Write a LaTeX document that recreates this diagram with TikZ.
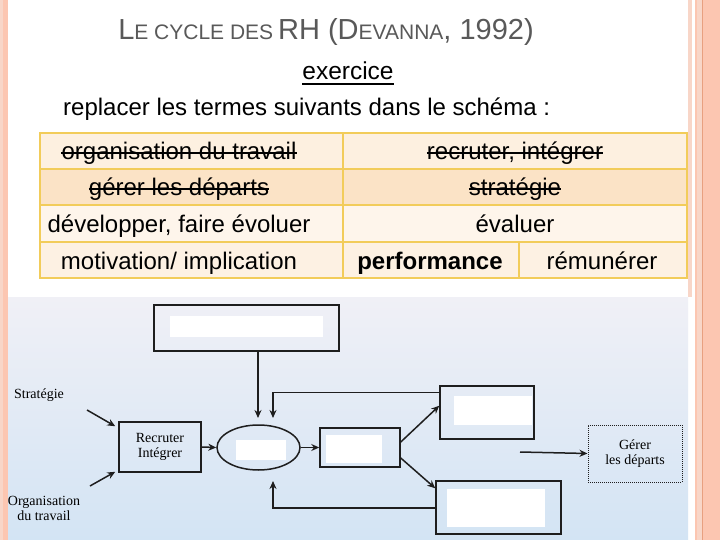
\documentclass[tikz,border=0pt]{standalone}
\usepackage{fontspec}
\setmainfont{Liberation Sans}
\newfontfamily\serifdiag{Liberation Serif}
\usetikzlibrary{arrows.meta,calc,shapes.geometric}
\definecolor{salmon}{HTML}{FCC6B1}
\definecolor{salmonlight}{HTML}{F8D6C8}
\definecolor{salmondark}{HTML}{E8A080}
\definecolor{bgtop}{HTML}{F0F0F6}
\definecolor{bgbot}{HTML}{D3E4F4}
\definecolor{titlegray}{HTML}{595959}
\definecolor{gold}{HTML}{F2CC5A}
\definecolor{rowA}{HTML}{FDF0E0}
\definecolor{rowB}{HTML}{FBE3C6}
\definecolor{rowC}{HTML}{FEF5EB}
\definecolor{rowD}{HTML}{FDF1E3}
\definecolor{lineC}{HTML}{1E1E1E}
\begin{document}
\begin{tikzpicture}[x=1pt,y=-1pt,
  tabtxt/.style={anchor=base,inner sep=0pt,font=\fontsize{24}{28}\selectfont},
  strike/.style={line width=1.8pt,black},
  dbox/.style={draw=lineC,line width=1.5pt,inner sep=0pt,rectangle},
  dlab/.style={inner sep=0pt,align=center,font=\serifdiag\fontsize{14}{15}\selectfont,text=black},
  arr/.style={draw=lineC,line width=1.5pt,-{Stealth[length=8pt,width=7pt]}}]
\useasboundingbox (0,0) rectangle (720,540);
\fill[white] (0,0) rectangle (720,540);
% side strips
\fill[salmonlight] (0,0) rectangle (3,540);
\fill[salmon] (3,0) rectangle (8,540);
\fill[salmonlight] (688,0) rectangle (692,297);
\fill[salmon] (695,0) rectangle (720,540);
\fill[salmonlight] (697,0) rectangle (702,540);
\draw[salmondark,line width=1pt] (702.5,0) -- (702.5,540);
% diagram background
\shade[top color=bgtop,bottom color=bgbot] (8,297) rectangle (688,540);

% title
\node[anchor=base,inner sep=0pt,text=titlegray] (title) at (326,40)
  {\fontsize{29}{31}\selectfont L{\fontsize{21}{23}\selectfont E CYCLE DES}\,RH (D{\fontsize{21}{23}\selectfont EVANNA}, 1992)};
\node[anchor=base,inner sep=0pt,font=\fontsize{24.5}{28}\selectfont] (ex) at (348,80) {exercice};
\draw[line width=1.2pt] ($(ex.base west)+(0,4)$) -- ($(ex.base east)+(0,4)$);
\node[anchor=base west,inner sep=0pt,font=\fontsize{24}{28}\selectfont] (rep) at (63,116)
  {replacer les termes suivants dans le schéma :};

% table
\fill[rowA] (40,133) rectangle (687,169);
\fill[rowB] (40,169) rectangle (687,205);
\fill[rowC] (40,205) rectangle (687,242);
\fill[rowD] (40,242) rectangle (687,278);
\draw[gold,line width=2pt] (40,133) rectangle (687,278);
\draw[gold,line width=2pt] (40,169) -- (687,169) (40,205) -- (687,205) (40,242) -- (687,242);
\draw[gold,line width=2pt] (343,133) -- (343,278) (519,242) -- (519,278);

\node[tabtxt] (c11) at (179,160) {organisation du travail};
\node[tabtxt] (c12) at (515,160) {recruter, intégrer};
\node[tabtxt] (c21) at (179,196) {gérer les départs};
\node[tabtxt] (c22) at (515,196) {stratégie};
\node[tabtxt] (c31) at (179,233) {développer, faire évoluer};
\node[tabtxt] (c32) at (515,233) {évaluer};
\node[tabtxt] (c41) at (179,269) {motivation/ implication};
\node[tabtxt,font=\bfseries\fontsize{24}{28}\selectfont] (c42) at (430,269) {performance};
\node[tabtxt] (c43) at (602,269) {rémunérer};
\foreach \n in {c11,c12,c21,c22}
  \draw[strike] ($(\n.base west)+(0,-7)$) -- ($(\n.base east)+(0,-7)$);

% diagram boxes
\node[dbox,minimum width=185pt,minimum height=46pt] (topbox) at (246.5,328) {};
\fill[white] (170,316) rectangle (323,337);
\node[dbox,minimum width=82pt,minimum height=50pt] (recbox) at (160,447) {};
\node[dlab] (rectxt) at (160,447) {Recruter\\Intégrer};
\node[draw=lineC,line width=1.5pt,ellipse,inner sep=0pt,minimum width=83pt,minimum height=45pt] (ell) at (258.5,447.5) {};
\fill[white] (236,440) rectangle (286,460);
\node[dbox,minimum width=80pt,minimum height=39pt] (midbox) at (360,447.5) {};
\fill[white] (326,435) rectangle (382,463);
\node[dbox,minimum width=94pt,minimum height=53pt] (urbox) at (487,412.5) {};
\fill[white] (454,396) rectangle (532,425);
\node[dbox,minimum width=125pt,minimum height=53pt] (lrbox) at (498.5,507.5) {};
\fill[white] (447,489) rectangle (545,527);
\node[draw=lineC,line width=1pt,densely dotted,rectangle,inner sep=0pt,minimum width=94pt,minimum height=57pt] (gerbox) at (635,453.5) {};
\node[dlab] (gertxt) at (635,453.5) {Gérer\\les départs};
\node[dlab] (strat) at (39,395) {Stratégie};
\node[dlab] (org) at (44,508) {Organisation\\du travail};

% connectors
\coordinate (t1) at (258,418);
\coordinate (t2) at (273,418);
\coordinate (b2) at (273,481);
\coordinate (s1) at (87,410);
\coordinate (o1) at (90,486);
\coordinate (g1) at (520,452);
\draw[arr] (t1 |- topbox.south) -- (t1);
\draw[arr] ([yshift=-7pt]urbox.north west) -| (t2);
\draw[arr] (s1) -- ([xshift=-3pt,yshift=-5pt]recbox.north west);
\draw[arr] (o1) -- ([xshift=-3pt,yshift=1pt]recbox.south west);
\draw[arr] (recbox.east) -- (ell.west);
\draw[arr] (ell.east) -- (midbox.west);
\draw[arr] ([yshift=5.5pt]midbox.east) -- ([yshift=34pt]urbox.south west);
\draw[arr] ([yshift=-10.5pt]midbox.east) -- ([yshift=-8pt]lrbox.north west);
\draw[arr] ([yshift=-0.5pt]lrbox.west) -| (b2);
\draw[arr] (g1) -- (gerbox.west);
\end{tikzpicture}
\end{document}
